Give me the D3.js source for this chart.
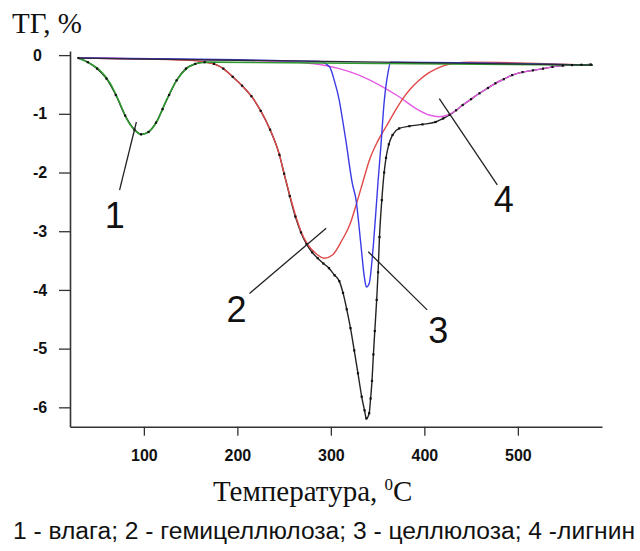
<!DOCTYPE html>
<html>
<head>
<meta charset="utf-8">
<script src="https://cdn.jsdelivr.net/npm/d3@7"></script>
<style>
  html, body { margin: 0; padding: 0; background: #fff; }
  svg { display: block; }
</style>
</head>
<body>
<div id="chart"></div>
<script>
// TG curve and its four components: [temperature °C, TG %]
const totalCurve = [
  [30, -0.05], [40, -0.12], [50, -0.23], [60, -0.40], [70, -0.68], [80, -1.03],
  [90, -1.27], [97, -1.35], [105, -1.31], [113, -1.15], [120, -0.92], [127, -0.68],
  [135, -0.43], [145, -0.23], [155, -0.15], [165, -0.12], [175, -0.15], [185, -0.23],
  [195, -0.37], [205, -0.52], [215, -0.70], [225, -0.95], [235, -1.27], [245, -1.70],
  [250, -2.02], [256, -2.40], [262, -2.75], [268, -3.02], [274, -3.22], [280, -3.36],
  [286, -3.46], [292, -3.55], [298, -3.63], [304, -3.75], [309, -3.85], [313, -4.05],
  [317, -4.33], [321, -4.65], [325, -5.03], [329, -5.42], [333, -5.82], [336, -6.05],
  [338, -6.19], [341, -6.10], [342.5, -5.85], [344, -5.55], [345.5, -5.10], [347, -4.70],
  [349, -4.17], [350.5, -3.70], [352, -3.10], [354.5, -2.47], [357, -2.00], [359, -1.75],
  [362, -1.52], [366, -1.36], [373, -1.25], [384, -1.21], [398, -1.18], [412, -1.14],
  [420, -1.08], [427, -1.02], [434, -0.94], [441, -0.85], [450, -0.75], [459, -0.65],
  [468, -0.56], [476, -0.48], [485, -0.41], [494, -0.34], [505, -0.29], [516, -0.26],
  [527, -0.23], [537, -0.20], [548, -0.18], [558, -0.17], [568, -0.165], [578, -0.16]
];
const moisture = [
  [30, -0.05], [42, -0.14], [53, -0.26], [64, -0.48], [73, -0.77], [81.5, -1.08],
  [88.6, -1.25], [97.5, -1.35], [104.7, -1.31], [113.6, -1.14], [124, -0.77],
  [135, -0.43], [145.6, -0.23], [160, -0.13], [170, -0.12], [580, -0.17]
];
const hemicellulose = [
  [30, -0.05], [150, -0.09], [165, -0.12], [175, -0.15], [185, -0.23], [195, -0.37],
  [205, -0.52], [215, -0.70], [225, -0.95], [235, -1.27], [245, -1.70], [250, -2.02],
  [256, -2.38], [262, -2.72], [268, -3.00], [275, -3.22], [284, -3.38], [293, -3.46],
  [302, -3.40], [312, -3.15], [320, -2.90], [328, -2.50], [335, -2.12], [341, -1.80],
  [350, -1.47], [359, -1.22], [368, -0.97], [377, -0.74], [386, -0.56], [395, -0.42],
  [403, -0.32], [412, -0.24], [421, -0.18], [432, -0.14], [448, -0.12], [580, -0.17]
];
const cellulose = [
  [30, -0.05], [288, -0.11], [298.5, -0.20], [304, -0.45], [309, -0.77], [312, -1.05],
  [316, -1.45], [323, -2.19], [327, -2.47], [332, -3.21], [336, -3.80], [338, -3.95],
  [341, -3.89], [345, -3.32], [348, -2.70], [350.5, -2.15], [353.5, -1.55], [357, -0.80],
  [361, -0.31], [364, -0.12], [580, -0.17]
];
const lignin = [
  [30, -0.05], [200, -0.09], [250, -0.11], [288, -0.16], [309, -0.23], [330, -0.34],
  [352, -0.51], [373, -0.71], [391, -0.91], [405, -1.02], [416, -1.05], [425, -1.02],
  [434, -0.94], [441, -0.85], [450, -0.75], [459, -0.65], [468, -0.56], [476, -0.48],
  [485, -0.41], [494, -0.34], [505, -0.29], [516, -0.26], [527, -0.23], [537, -0.20],
  [548, -0.18], [558, -0.17], [568, -0.165], [578, -0.16]
];
const baseline = [[30, -0.05], [580, -0.17]];

const yTicks = [0, -1, -2, -3, -4, -5, -6];
const yMinorTicks = d3.range(0, -6.3, -0.2);
const xTicks = [100, 200, 300, 400, 500];
const xMinorTicks = d3.range(40, 581, 20);

// callouts: label, point on curve, end of leader line (in data units)
const callouts = [
  { label: '1', from: [92, -1.14], to: [74, -2.3], text: [69, -2.95] },
  { label: '2', from: [295, -2.95], to: [213, -4.06], text: [199, -4.55] },
  { label: '3', from: [340, -3.35], to: [403, -4.34], text: [415, -4.9] },
  { label: '4', from: [416, -0.74], to: [478, -2.21], text: [485, -2.68] }
];

const width = 640, height = 551;
const svg = d3.select('#chart').append('svg')
  .attr('width', width)
  .attr('height', height);

const x = d3.scaleLinear().domain([21, 590]).range([70, 602]);
const y = d3.scaleLinear().domain([-6.33, 0.07]).range([426.7, 51]);

// axes
const axisColor = '#333';
const xAxisG = svg.append('g').attr('transform', `translate(0,${y(-6.33)})`);
xAxisG.call(d3.axisBottom(x).tickValues(xMinorTicks).tickSize(5).tickFormat(''));
xAxisG.call(d3.axisBottom(x).tickValues(xTicks).tickSize(9).tickSizeOuter(0).tickPadding(14)
  .tickFormat(d => String(d)));
const yAxisG = svg.append('g').attr('transform', `translate(${x(21)},0)`);
yAxisG.call(d3.axisLeft(y).tickValues(yMinorTicks).tickSize(7).tickFormat(''));
yAxisG.call(d3.axisLeft(y).tickValues(yTicks).tickSize(11).tickSizeOuter(0)
  .tickFormat(d => String(d).replace('\u2212', '-')));

svg.selectAll('.domain').attr('stroke', axisColor).attr('stroke-width', 1.6);
svg.selectAll('.tick line').attr('stroke', axisColor).attr('stroke-width', 1.3);
svg.selectAll('.tick text')
  .attr('fill', '#111')
  .style('font-family', 'Liberation Sans, Arial, sans-serif')
  .style('font-size', '16px')
  .style('font-weight', 'bold');
yAxisG.selectAll('.tick text').attr('text-anchor', 'start').attr('x', -37);

// curves
const line = d3.line().x(d => x(d[0])).y(d => y(d[1])).curve(d3.curveMonotoneX);
const plot = svg.append('g');
const drawCurve = (data, color, w) => plot.append('path')
  .datum(data)
  .attr('d', line)
  .attr('fill', 'none')
  .attr('stroke', color)
  .attr('stroke-width', w);

drawCurve(totalCurve, '#222', 1.4);
drawCurve(lignin, '#e45ce4', 1.4);
drawCurve(hemicellulose, '#e04848', 1.4);
drawCurve(cellulose, '#3b3be6', 1.4);
drawCurve(moisture, '#2f9a2f', 1.6);
drawCurve(baseline, '#2a2a3a', 1.3);

plot.append('g').selectAll('rect')
  .data(totalCurve)
  .join('rect')
  .attr('x', d => x(d[0]) - 1.1)
  .attr('y', d => y(d[1]) - 1.1)
  .attr('width', 2.2)
  .attr('height', 2.2)
  .attr('fill', '#111');

// leader lines and numbers
const notes = svg.append('g');
callouts.forEach(c => {
  notes.append('line')
    .attr('x1', x(c.from[0])).attr('y1', y(c.from[1]))
    .attr('x2', x(c.to[0])).attr('y2', y(c.to[1]))
    .attr('stroke', '#222')
    .attr('stroke-width', 1.3);
  notes.append('text')
    .attr('x', x(c.text[0]))
    .attr('y', y(c.text[1]))
    .attr('text-anchor', 'middle')
    .style('font-family', 'Liberation Sans, Arial, sans-serif')
    .style('font-size', '36px')
    .attr('fill', '#111')
    .text(c.label);
});

// titles
svg.append('text')
  .attr('x', 12).attr('y', 33)
  .style('font-family', 'Liberation Serif, Times New Roman, serif')
  .style('font-size', '29px')
  .attr('fill', '#111')
  .text('ТГ, %');

const xTitle = svg.append('text')
  .attr('x', 213).attr('y', 501)
  .style('font-family', 'Liberation Serif, Times New Roman, serif')
  .style('font-size', '29px')
  .attr('fill', '#111');
xTitle.append('tspan').text('Температура, ');
xTitle.append('tspan').attr('dy', -11).style('font-size', '17px').text('0');
xTitle.append('tspan').attr('dy', 11).text('C');

svg.append('text')
  .attr('x', 13).attr('y', 539)
  .attr('textLength', 622)
  .attr('lengthAdjust', 'spacingAndGlyphs')
  .style('font-family', 'Liberation Sans, Arial, sans-serif')
  .style('font-size', '23px')
  .attr('fill', '#111')
  .text('1 - влага; 2 - гемицеллюлоза; 3 - целлюлоза; 4 -лигнин');
</script>
</body>
</html>
